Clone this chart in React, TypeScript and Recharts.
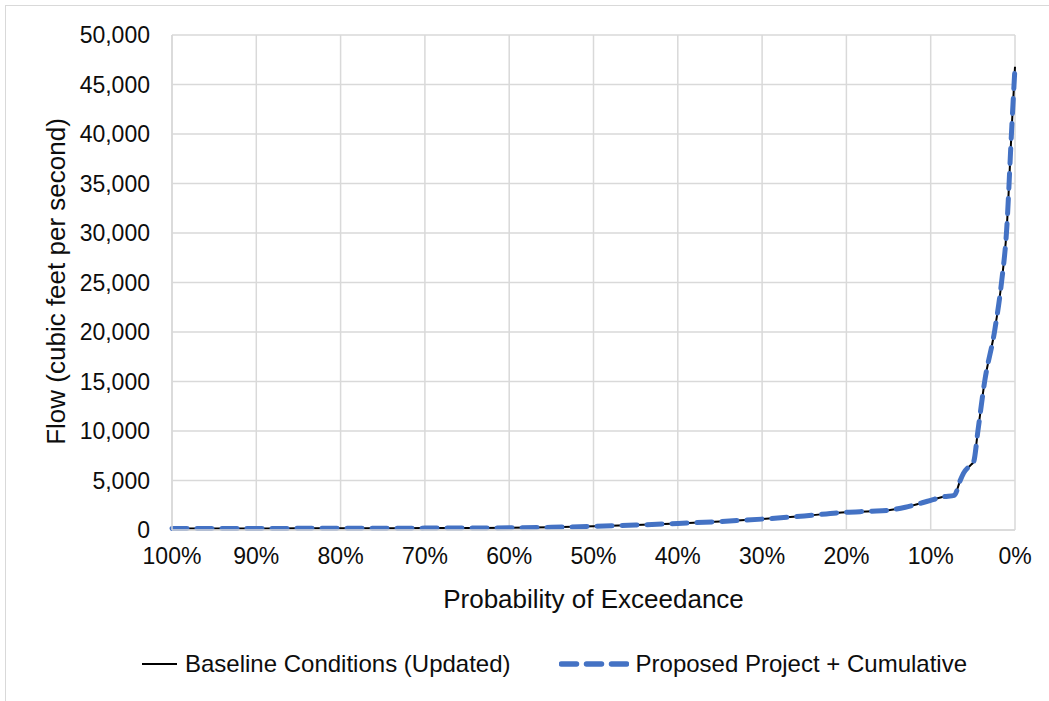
import React from "react";
import { LineChart, Line, XAxis, YAxis, CartesianGrid, Legend } from "recharts";

// Probability of exceedance (%)
const exceedance = [100, 95, 90, 85, 80, 75, 70, 65, 60, 55, 50, 45, 40, 35, 30, 25, 20, 17, 15, 13, 11, 10, 8.5, 7.2, 6.5, 6.1, 5.2, 4.9, 4.4, 3.6, 2.4, 1.6, 1.0, 0.4, 0];
// Flow (cfs)
const baselineFlow = [150, 155, 160, 165, 170, 180, 190, 200, 215, 270, 370, 500, 660, 860, 1100, 1420, 1800, 1900, 2000, 2300, 2750, 3000, 3350, 3500, 5000, 5750, 6600, 6900, 10000, 15000, 20200, 25000, 30200, 40400, 46800];
const proposedFlow = [150, 155, 160, 165, 170, 180, 190, 200, 215, 270, 370, 500, 660, 860, 1100, 1420, 1800, 1900, 2000, 2300, 2750, 3000, 3350, 3500, 5000, 5750, 6600, 6900, 10000, 15000, 20200, 25000, 30200, 40400, 46800];

const xTicks = [100, 90, 80, 70, 60, 50, 40, 30, 20, 10, 0];
const yTicks = [0, 5000, 10000, 15000, 20000, 25000, 30000, 35000, 40000, 45000, 50000];

const seriesNames = ["Baseline Conditions (Updated)", "Proposed Project + Cumulative"];

const data = exceedance.map((p, i) => ({
  p,
  baseline: baselineFlow[i],
  proposed: proposedFlow[i],
}));

const FONT = "'Liberation Sans', Arial, sans-serif";
const TEXT = "#0d0d0d";
const GRID = "#d9d9d9";
const BLUE = "#4472C4";

const LegendContent = () => (
  <div
    style={{
      display: "flex",
      alignItems: "center",
      paddingLeft: 142,
      fontFamily: FONT,
      fontSize: 24,
      color: TEXT,
      height: 40,
      whiteSpace: "nowrap",
    }}
  >
    <svg width={35} height={10} style={{ display: "block" }}>
      <line x1={0} y1={5} x2={35} y2={5} stroke="#000" strokeWidth={2} />
    </svg>
    <span style={{ marginLeft: 8 }}>{seriesNames[0]}</span>
    <svg width={70} height={10} style={{ display: "block", marginLeft: 48 }}>
      <line
        x1={2.5}
        y1={5}
        x2={67.5}
        y2={5}
        stroke={BLUE}
        strokeWidth={5.5}
        strokeDasharray="15 10"
        strokeLinecap="round"
      />
    </svg>
    <span style={{ marginLeft: 7 }}>{seriesNames[1]}</span>
  </div>
);

export default function App() {
  return (
    <div style={{ position: "absolute", left: 0, top: 0, width: 1049, height: 701, background: "#fff" }}>
      <div
        style={{
          position: "absolute",
          left: 5,
          top: 5,
          width: 1044,
          height: 696,
          borderTop: `1px solid ${GRID}`,
          borderLeft: `1px solid ${GRID}`,
          boxSizing: "border-box",
          pointerEvents: "none",
        }}
      />
      <LineChart
        width={1049}
        height={701}
        data={data}
        margin={{ top: 35, right: 34, left: 0, bottom: 0 }}
        style={{ fontFamily: FONT }}
      >
        <CartesianGrid stroke={GRID} strokeWidth={1.5} />
        <XAxis
          dataKey="p"
          type="number"
          domain={[0, 100]}
          reversed
          ticks={xTicks}
          tickFormatter={(v: number) => `${v}%`}
          height={171}
          tickSize={0}
          tickMargin={18}
          axisLine={{ stroke: GRID, strokeWidth: 1.5 }}
          tick={{ fill: TEXT, fontSize: 23, fontFamily: FONT }}
          interval={0}
          label={{
            content: (props: any) => {
              const vb = props.viewBox || {};
              return (
                <text
                  x={vb.x + vb.width / 2}
                  y={vb.y + 78}
                  textAnchor="middle"
                  fill={TEXT}
                  fontSize={26}
                  fontFamily={FONT}
                >
                  Probability of Exceedance
                </text>
              );
            },
          }}
        />
        <YAxis
          type="number"
          domain={[0, 50000]}
          ticks={yTicks}
          tickFormatter={(v: number) => v.toLocaleString("en-US")}
          width={172}
          tickSize={0}
          tickMargin={22}
          axisLine={{ stroke: GRID, strokeWidth: 1.5 }}
          tick={{ fill: TEXT, fontSize: 23, fontFamily: FONT }}
          interval={0}
          label={{
            content: (props: any) => {
              const vb = props.viewBox || {};
              const cy = vb.y + vb.height / 2;
              return (
                <text
                  transform={`translate(65, ${cy - 1}) rotate(-90)`}
                  x={0}
                  y={0}
                  textAnchor="middle"
                  fill={TEXT}
                  fontSize={26}
                  fontFamily={FONT}
                >
                  Flow (cubic feet per second)
                </text>
              );
            },
          }}
        />
        <Legend
          verticalAlign="middle"
          align="center"
          wrapperStyle={{ top: 644, left: 0, width: 1049 }}
          content={() => <LegendContent />}
        />
        <Line
          name={seriesNames[0]}
          dataKey="baseline"
          type="monotone"
          stroke="#000"
          strokeWidth={2}
          dot={false}
          isAnimationActive={false}
        />
        <Line
          name={seriesNames[1]}
          dataKey="proposed"
          type="monotone"
          stroke={BLUE}
          strokeWidth={5}
          strokeDasharray="15 10"
          strokeLinecap="round"
          dot={false}
          isAnimationActive={false}
        />
      </LineChart>
    </div>
  );
}
